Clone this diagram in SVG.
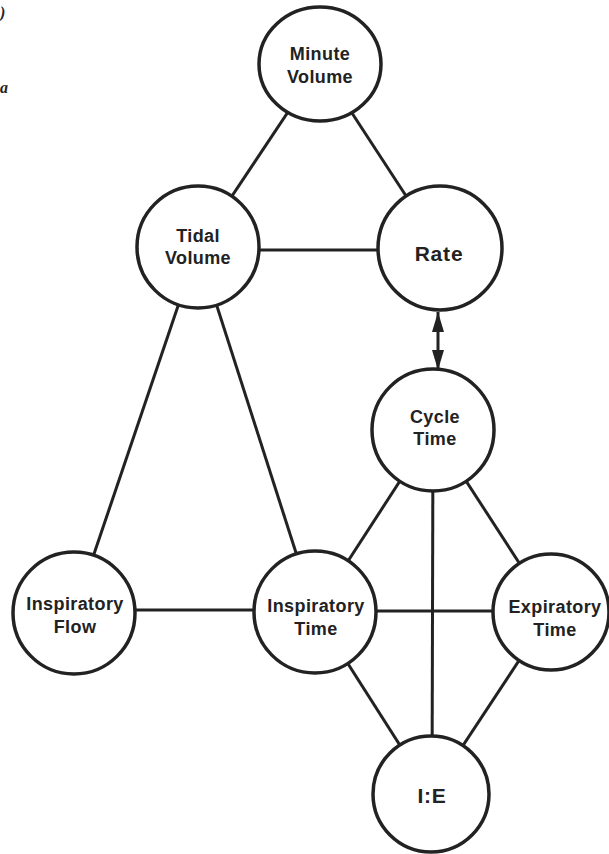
<svg xmlns="http://www.w3.org/2000/svg" width="609" height="854" viewBox="0 0 609 854">
<style>
.n{fill:#fff;stroke:#222;stroke-width:3.5}
.c line{stroke:#222;stroke-width:3}
.t{font-family:"Liberation Sans",Arial,sans-serif;font-weight:bold;font-size:18px;fill:#222;text-anchor:middle;letter-spacing:0.4px}
.big{font-size:21px;letter-spacing:0.8px}
.f{font-family:"Liberation Serif","Times New Roman",serif;font-style:italic;font-weight:bold;fill:#222}
</style>
<defs>
<marker id="ah" viewBox="0 0 20 12" refX="20" refY="6" markerWidth="20" markerHeight="12" markerUnits="userSpaceOnUse" orient="auto-start-reverse">
<path d="M0,0 L20,6 L0,12 Z" fill="#222"/>
</marker>
</defs>
<rect width="609" height="854" fill="#fff"/>
<text class="f" x="0" y="18" font-size="16">)</text>
<text class="f" x="0" y="93" font-size="16">a</text>
<g id="connectors" class="c">
<line x1="320" y1="64" x2="198" y2="247"/>
<line x1="320" y1="64" x2="440" y2="248"/>
<line x1="198" y1="250" x2="440" y2="250"/>
<line x1="198" y1="247" x2="74" y2="613"/>
<line x1="198" y1="247" x2="315" y2="612"/>
<line x1="433" y1="430" x2="315" y2="612"/>
<line x1="433" y1="430" x2="551" y2="612"/>
<line x1="433" y1="430" x2="432" y2="794"/>
<line x1="74" y1="610" x2="315" y2="610"/>
<line x1="315" y1="611" x2="551" y2="611"/>
<line x1="315" y1="612" x2="431" y2="794"/>
<line x1="551" y1="612" x2="431" y2="794"/>
<line x1="438" y1="312" x2="438" y2="370" stroke-width="2.5" marker-start="url(#ah)" marker-end="url(#ah)"/>
</g>
<g id="minute-volume">
<ellipse class="n" cx="320" cy="64" rx="61" ry="57"/>
<text class="t" x="320" y="60">Minute</text>
<text class="t" x="320" y="83">Volume</text>
</g>
<g id="tidal-volume">
<circle class="n" cx="198" cy="247" r="61"/>
<text class="t" x="198" y="242">Tidal</text>
<text class="t" x="198" y="264">Volume</text>
</g>
<g id="rate">
<circle class="n" cx="440" cy="248" r="62"/>
<text class="t big" x="439" y="261">Rate</text>
</g>
<g id="cycle-time">
<circle class="n" cx="433" cy="430" r="61"/>
<text class="t" x="435" y="423">Cycle</text>
<text class="t" x="435" y="445">Time</text>
</g>
<g id="inspiratory-flow">
<circle class="n" cx="74" cy="613" r="61"/>
<text class="t" x="75" y="610">Inspiratory</text>
<text class="t" x="75" y="633">Flow</text>
</g>
<g id="inspiratory-time">
<circle class="n" cx="315" cy="612" r="61"/>
<text class="t" x="316" y="612">Inspiratory</text>
<text class="t" x="316" y="635">Time</text>
</g>
<g id="expiratory-time">
<circle class="n" cx="551" cy="612" r="58"/>
<text class="t" x="555" y="613">Expiratory</text>
<text class="t" x="555" y="636">Time</text>
</g>
<g id="i-e">
<circle class="n" cx="431" cy="794" r="58"/>
<text class="t big" x="432" y="803" font-size="22px">I:E</text>
</g>
</svg>
